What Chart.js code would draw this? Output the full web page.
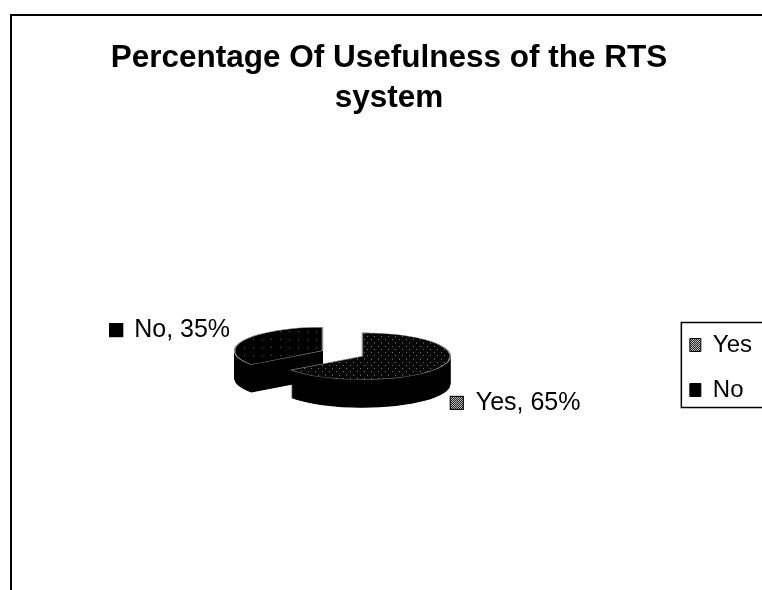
<!DOCTYPE html>
<html>
<head>
<meta charset="utf-8">
<script src="https://cdn.jsdelivr.net/npm/chart.js@4.4.1/dist/chart.umd.min.js"></script>
<style>
  html, body { margin: 0; padding: 0; background: #fff; }
  #wrap { width: 762px; height: 590px; position: relative; }
  canvas { display: block; }
</style>
</head>
<body>
<div id="wrap"><canvas id="c" width="762" height="590"></canvas></div>
<script>
// ---- data ----
const titleLines = ['Percentage Of Usefulness of the RTS', 'system'];
const categories = ['Yes', 'No'];
const percentages = [65, 35];

// ---- style ----
const FONT = "'Liberation Sans', Arial, Helvetica, sans-serif";
const TILT = 0.267;     // vertical squash of the pie
const DEPTH = 28;       // thickness of the 3D pie in px
const EXPLODE = 22.4;   // slice separation along its mid angle
const SIDE_COLOR = '#000';

function makePattern(w, h, base, dot, dots) {
  const c = document.createElement('canvas');
  c.width = w; c.height = h;
  const g = c.getContext('2d');
  g.fillStyle = base; g.fillRect(0, 0, w, h);
  g.fillStyle = dot;
  dots.forEach(([x, y, dw, dh]) => g.fillRect(x, y, dw, dh));
  return g.createPattern(c, 'repeat');
}
// top-face patterns are drawn in the squashed space, so they are tall tiles
const yesTop = makePattern(7, 24, '#080808', '#707070', [[1, 2, 1, 4], [4, 14, 1, 4]]);
const noTop = makePattern(9, 30, '#000', '#5a5a5a', [[3, 8, 1, 4]]);
const yesKey = makePattern(2, 2, '#2a2a2a', '#b5b5b5', [[0, 0, 1, 1], [1, 1, 1, 1]]);
const noKey = '#000';
const sliceFills = [yesTop, noTop];
const keyFills = [yesKey, noKey];

function arcGeom(a) {
  const mid = (a.startAngle + a.endAngle) / 2;
  return { mid, ox: Math.cos(mid) * EXPLODE, oy: Math.sin(mid) * EXPLODE };
}

const pie3d = {
  id: 'pie3d',
  beforeDraw(chart) {
    const c = chart.ctx;
    c.save();
    c.fillStyle = '#fff';
    c.fillRect(0, 0, chart.width, chart.height);
    c.restore();
  },
  beforeDatasetsDraw(chart) {
    const c = chart.ctx;
    const arcs = chart.getDatasetMeta(0).data;
    if (!arcs.length) return;
    const cx = arcs[0].x, cy = arcs[0].y;
    const order = arcs.map((a, i) => ({ a, i, g: arcGeom(a) })).sort((p, q) => p.g.oy - q.g.oy);

    c.save();
    c.translate(cx, cy); c.scale(1, TILT); c.translate(-cx, -cy);
    // side walls
    c.fillStyle = SIDE_COLOR;
    for (const { a, g } of order) {
      for (let d = DEPTH; d >= 0.5; d -= 0.5) {
        const x = a.x + g.ox, y = a.y + g.oy + d / TILT;
        c.beginPath();
        c.moveTo(x, y);
        c.arc(x, y, a.outerRadius, a.startAngle, a.endAngle);
        c.closePath();
        c.fill();
      }
    }
    // top faces, drawn by the library's arc elements
    for (const { a, g } of order) {
      c.save();
      c.translate(g.ox, g.oy);
      a.draw(c);
      c.restore();
    }
    c.restore();

    // data labels
    const vals = chart.data.datasets[0].data;
    const total = vals.reduce((s, v) => s + v, 0);
    c.save();
    c.font = '25px ' + FONT;
    c.textBaseline = 'middle';
    c.textAlign = 'left';
    arcs.forEach((a, i) => {
      const g = arcGeom(a);
      const px = a.x + g.ox + a.outerRadius * Math.cos(g.mid);
      const py = a.y + (g.oy + a.outerRadius * Math.sin(g.mid)) * TILT;
      const text = chart.data.labels[i] + ', ' + Math.round(vals[i] / total * 100) + '%';
      const tw = c.measureText(text).width;
      let boxX, textX, ty;
      if (Math.cos(g.mid) < 0) {
        textX = px - 14 - tw; ty = py - 10; boxX = textX - 25;
      } else {
        boxX = px + 9; textX = boxX + 26; ty = py + DEPTH + 8;
      }
      c.fillStyle = keyFills[i];
      c.fillRect(boxX, ty - 7, 14, 14);
      c.strokeStyle = '#000'; c.lineWidth = 1;
      c.strokeRect(boxX + 0.5, ty - 6.5, 13, 13);
      c.fillStyle = '#000';
      c.fillText(text, textX, ty);
    });
    c.restore();
    return false;
  },
  afterDraw(chart) {
    const c = chart.ctx;
    c.save();
    c.strokeStyle = '#000';
    c.lineWidth = 2;
    c.beginPath();
    c.moveTo(11, 590); c.lineTo(11, 15); c.lineTo(762, 15);
    c.stroke();
    const lg = chart.legend;
    const hb = lg.legendHitBoxes;
    if (hb && hb.length) {
      const top = hb[0].top - 11;
      const last = hb[hb.length - 1];
      const bottom = last.top + last.height + 5;
      c.lineWidth = 1.5;
      c.strokeRect(lg.left + 12.5, top + 0.5, 200, bottom - top);
    }
    c.restore();
  }
};

new Chart(document.getElementById('c'), {
  type: 'pie',
  data: {
    labels: categories,
    datasets: [{
      data: percentages,
      backgroundColor: sliceFills,
      borderColor: '#8a8a8a',
      borderWidth: 1.5,
      offset: 0,
      radius: 88
    }]
  },
  options: {
    responsive: false,
    animation: false,
    events: [],
    layout: { padding: { left: 16, right: 0, top: 0, bottom: 13 } },
    plugins: {
      title: {
        display: true,
        text: titleLines,
        color: '#000',
        font: { family: FONT, size: 31.5, weight: 'bold', lineHeight: '40px' },
        padding: { top: 38, bottom: 12 }
      },
      legend: {
        display: true,
        position: 'right',
        align: 'center',
        fullSize: false,
        title: { display: true, text: ' ', padding: 0, font: { size: 10, lineHeight: '28px' } },
        labels: {
          color: '#000',
          font: { family: FONT, size: 24 },
          boxWidth: 11,
          boxHeight: 13,
          padding: 21,
          generateLabels(chart) {
            const items = Chart.overrides.pie.plugins.legend.labels.generateLabels(chart);
            items.forEach((it, i) => { it.fillStyle = keyFills[i]; it.strokeStyle = '#000'; it.lineWidth = 1; });
            return items;
          }
        }
      },
      tooltip: { enabled: false }
    }
  },
  plugins: [pie3d]
});
</script>
</body>
</html>
